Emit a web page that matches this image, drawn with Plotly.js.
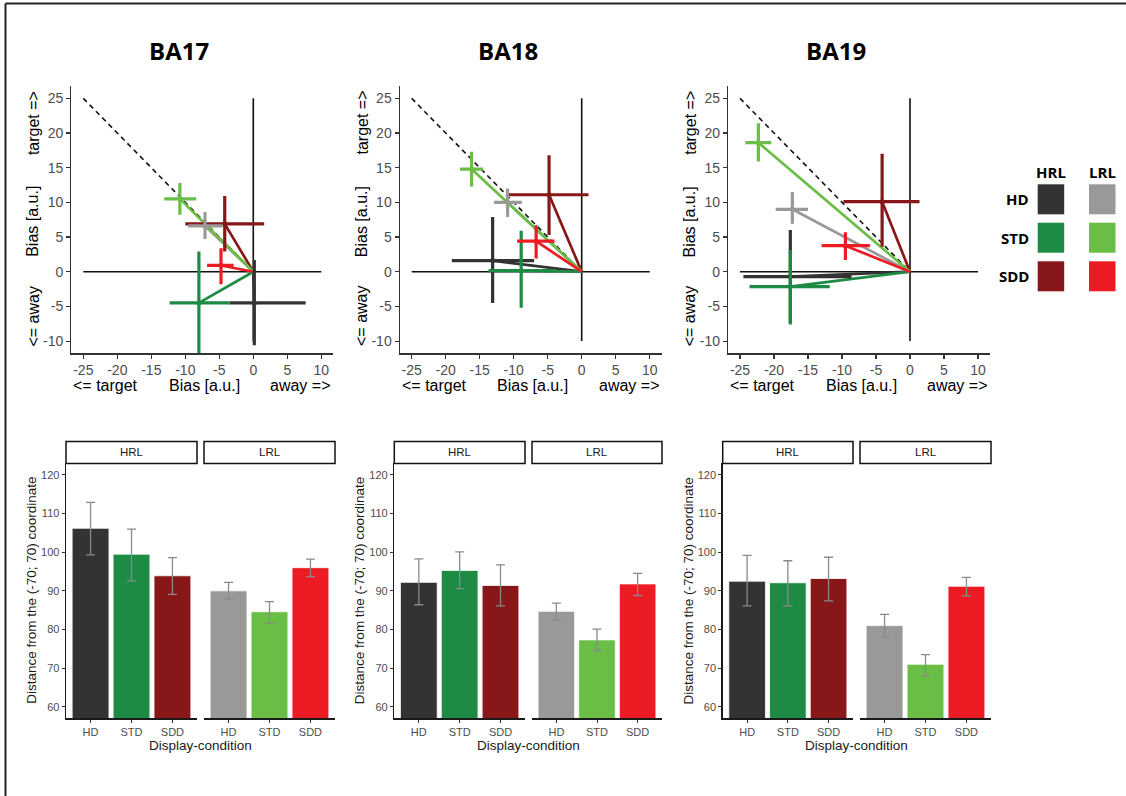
<!DOCTYPE html>
<html><head><meta charset="utf-8">
<script src="https://cdn.plot.ly/plotly-3.0.1.min.js"></script>
<style>html,body{margin:0;padding:0;background:#fff;overflow:hidden}#chart{width:1126px;height:796px}</style>
</head><body><div id="chart"></div>
<script>
// ---------- DATA ----------
const areas = ['BA17', 'BA18', 'BA19'];
const groups = ['HRL', 'LRL'];
const conditions = ['HD', 'STD', 'SDD'];
// series order: HRL HD, HRL STD, HRL SDD, LRL HD, LRL STD, LRL SDD
const seriesColors = ['#333333', '#1e8b45', '#871719', '#999999', '#6abd45', '#ed1c24'];

// Bias plots (mean and error-bar limits)
const ba17MeanX = [0.15, -8.0, -4.2, -7.1, -10.8, -4.75];
const ba17MeanY = [-4.5, -4.5, 6.9, 6.6, 10.5, 0.9];
const ba17XLo = [-3.5, -12.3, -10.0, -9.6, -13.1, -6.8];
const ba17XHi = [7.7, -3.5, 1.6, -4.5, -8.4, -2.9];
const ba17YLo = [-10.6, -12.5, 2.9, 4.7, 8.2, -1.8];
const ba17YHi = [1.7, 2.9, 10.9, 8.6, 12.8, 3.4];

const ba18MeanX = [-13.1, -8.9, -4.8, -10.9, -16.2, -6.7];
const ba18MeanY = [1.6, 0.15, 11.1, 10.0, 14.8, 4.4];
const ba18XLo = [-19.1, -13.7, -10.7, -12.9, -17.9, -9.5];
const ba18XHi = [-7.0, -4.0, 1.0, -8.8, -14.5, -4.0];
const ba18YLo = [-4.5, -5.2, 5.3, 7.9, 12.3, 1.9];
const ba18YHi = [7.9, 5.9, 16.8, 12.0, 17.3, 6.7];

const ba19MeanX = [-17.6, -17.6, -4.1, -17.3, -22.3, -9.5];
const ba19MeanY = [-0.7, -2.15, 10.1, 9.0, 18.6, 3.75];
const ba19XLo = [-24.5, -23.6, -9.8, -19.75, -24.2, -13.0];
const ba19XHi = [-8.6, -11.8, 1.4, -15.0, -20.4, -5.9];
const ba19YLo = [-7.4, -7.6, 3.6, 6.9, 15.9, 1.7];
const ba19YHi = [6.0, 3.1, 17.0, 11.5, 21.4, 5.7];

// reference lines
const originXY = [0, 0];
const refHorizX = [-25, 10];
const refVertY = [-10, 25];
const diagX = [-25, 0];
const diagY = [25, 0];

const biasTickVals = [-25, -20, -15, -10, -5, 0, 5, 10];
const biasTickText = ['-25', '-20', '-15', '-10', '-5', '0', '5', '10'];
const biasYTickVals = [-10, -5, 0, 5, 10, 15, 20, 25];
const biasYTickText = ['-10', '-5', '0', '5', '10', '15', '20', '25'];

// Distance bar charts
const ba17Dist = [106.2, 99.5, 93.9, 90.0, 84.6, 96.0];
const ba17DistLo = [99.3, 92.6, 89.1, 87.9, 81.6, 93.7];
const ba17DistHi = [112.9, 106.0, 98.6, 92.2, 87.2, 98.2];
const ba18Dist = [92.2, 95.3, 91.4, 84.7, 77.3, 91.8];
const ba18DistLo = [86.4, 90.6, 86.1, 82.5, 74.5, 88.8];
const ba18DistHi = [98.3, 100.1, 96.7, 86.8, 80.1, 94.5];
const ba19Dist = [92.5, 92.1, 93.2, 81.0, 71.0, 91.2];
const ba19DistLo = [86.1, 86.1, 87.4, 78.1, 68.0, 88.7];
const ba19DistHi = [99.2, 97.8, 98.7, 83.9, 73.5, 93.5];
const distTickVals = [60, 70, 80, 90, 100, 110, 120];

// ---------- BUILD ----------
const W = 1126, H = 796;
const px = v => v / W;
const py = v => 1 - v / H;
const FONT = 'Liberation Sans, Arial, sans-serif';
const TITLEFONT = 'Open Sans, Noto Sans, sans-serif';

const biasData = [
  [ba17MeanX, ba17MeanY, ba17XLo, ba17XHi, ba17YLo, ba17YHi],
  [ba18MeanX, ba18MeanY, ba18XLo, ba18XHi, ba18YLo, ba18YHi],
  [ba19MeanX, ba19MeanY, ba19XLo, ba19XHi, ba19YLo, ba19YHi]
];
const distData = [
  [ba17Dist, ba17DistLo, ba17DistHi],
  [ba18Dist, ba18DistLo, ba18DistHi],
  [ba19Dist, ba19DistLo, ba19DistHi]
];

// layout geometry (pixels)
const topLeft = [71.4, 399.8, 728.1];
const topRight = [333.2, 661.6, 989.9];
const topY = [86.2, 353.2];
const botPanels = [[[66, 197], [204, 335]], [[394.3, 525], [532, 662]], [[722.7, 853], [860, 991]]];
const botY = [463.4, 718.3];
const stripY = [441.5, 463.4];
const titleX = [179, 508, 836];

const traces = [];
const layout = {
  width: W, height: H,
  margin: {l: 0, r: 0, t: 0, b: 0},
  paper_bgcolor: '#ffffff', plot_bgcolor: '#ffffff',
  showlegend: false,
  font: {family: FONT, color: '#1a1a1a'},
  annotations: [], shapes: []
};

function ann(text, x, y, opts) {
  layout.annotations.push(Object.assign({
    text: text, x: px(x), y: py(y), xref: 'paper', yref: 'paper',
    showarrow: false, xanchor: 'center', yanchor: 'middle',
    font: {family: FONT, size: 16, color: '#000000'}
  }, opts || {}));
}

areas.forEach((area, i) => {
  const n = i + 1;
  const xs = n === 1 ? '' : String(n);
  const [mx, my, xlo, xhi, ylo, yhi] = biasData[i];
  const xa = 'x' + xs, ya = 'y' + xs;

  layout['xaxis' + xs] = {
    domain: [px(topLeft[i]), px(topRight[i])], range: [-26.75, 11.75], anchor: ya,
    tickmode: 'array', tickvals: biasTickVals, ticktext: biasTickText,
    showline: true, linecolor: '#333333', linewidth: 1.3, ticks: 'outside', ticklen: 4,
    tickcolor: '#333333', tickwidth: 1.1, showgrid: false, zeroline: false,
    tickfont: {family: FONT, size: 14, color: '#4d4d4d'}, fixedrange: true
  };
  layout['yaxis' + xs] = {
    domain: [py(topY[1]), py(topY[0])], range: [-11.75, 26.75], anchor: xa,
    tickmode: 'array', tickvals: biasYTickVals, ticktext: biasYTickText,
    showline: true, linecolor: '#333333', linewidth: 1.3, ticks: 'outside', ticklen: 4,
    tickcolor: '#333333', tickwidth: 1.1, showgrid: false, zeroline: false,
    tickfont: {family: FONT, size: 14, color: '#4d4d4d'}, fixedrange: true
  };

  // reference lines
  traces.push({type: 'scatter', mode: 'lines', x: refHorizX, y: originXY, xaxis: xa, yaxis: ya,
    line: {color: '#111111', width: 1.6}, hoverinfo: 'skip'});
  traces.push({type: 'scatter', mode: 'lines', x: originXY, y: refVertY, xaxis: xa, yaxis: ya,
    line: {color: '#111111', width: 1.6}, hoverinfo: 'skip'});
  traces.push({type: 'scatter', mode: 'lines', x: diagX, y: diagY, xaxis: xa, yaxis: ya,
    line: {color: '#111111', width: 1.6, dash: '5px,4px'}, hoverinfo: 'skip'});

  // connecting lines
  for (let j = 0; j < 6; j++) {
    traces.push({type: 'scatter', mode: 'lines', x: [originXY[0], mx[j]], y: [originXY[1], my[j]],
      xaxis: xa, yaxis: ya, line: {color: seriesColors[j], width: 2.7}, hoverinfo: 'skip'});
  }
  // crosses
  for (let j = 0; j < 6; j++) {
    traces.push({type: 'scatter', mode: 'markers', x: [mx[j]], y: [my[j]], xaxis: xa, yaxis: ya,
      marker: {color: seriesColors[j], size: 5},
      name: groups[Math.floor(j / 3)] + ' ' + conditions[j % 3],
      error_x: {type: 'data', symmetric: false, array: [xhi[j] - mx[j]], arrayminus: [mx[j] - xlo[j]],
        color: seriesColors[j], thickness: 3.2, width: 0},
      error_y: {type: 'data', symmetric: false, array: [yhi[j] - my[j]], arrayminus: [my[j] - ylo[j]],
        color: seriesColors[j], thickness: 3.2, width: 0}
    });
  }

  // title
  ann('<b>' + area + '</b>', titleX[i], 51, {font: {family: TITLEFONT, size: 24, color: '#000000'}});

  // top axis title parts
  const zeroPx = topLeft[i] + 26.75 * (topRight[i] - topLeft[i]) / 38.5;
  ann('&lt;= target', zeroPx - 147.5, 385);
  ann('Bias [a.u.]', zeroPx - 49, 385);
  ann('away =&gt;', zeroPx + 47, 385);
  const yl = topLeft[i] - 38.3;
  ann('target =&gt;', yl, 123, {textangle: -90});
  ann('Bias [a.u.]', yl, 221.7, {textangle: -90});
  ann('&lt;= away', yl, 316.5, {textangle: -90});

  // bottom bar panels
  groups.forEach((g, k) => {
    const an = 4 + 2 * i + k;
    const bxa = 'x' + an, bya = 'y' + an;
    const [d, lo, hi] = distData[i];
    const vals = d.slice(3 * k, 3 * k + 3);
    const los = lo.slice(3 * k, 3 * k + 3);
    const his = hi.slice(3 * k, 3 * k + 3);
    const [x0, x1] = botPanels[i][k];
    layout['xaxis' + an] = {
      domain: [px(x0), px(x1)], type: 'category', categoryorder: 'array', categoryarray: conditions,
      range: [-0.6, 2.6], anchor: bya, showline: true, linecolor: '#1a1a1a', linewidth: 1.4,
      ticks: 'outside', ticklen: 3, tickcolor: '#333333', tickwidth: 1, showgrid: false, zeroline: false,
      tickfont: {family: FONT, size: 11, color: '#4d4d4d'}, fixedrange: true
    };
    layout['yaxis' + an] = {
      domain: [py(botY[1]), py(botY[0])], range: [57, 123], anchor: bxa,
      tickmode: 'array', tickvals: distTickVals,
      visible: k === 0, showline: true, linecolor: '#1a1a1a', linewidth: 1.4,
      ticks: 'outside', ticklen: 3, tickcolor: '#333333', tickwidth: 1, showgrid: false, zeroline: false,
      tickfont: {family: FONT, size: 11, color: '#4d4d4d'}, fixedrange: true
    };
    traces.push({type: 'bar', x: conditions, y: vals, xaxis: bxa, yaxis: bya, width: 0.9,
      marker: {color: seriesColors.slice(3 * k, 3 * k + 3), line: {color: '#ffffff', width: 0.8}},
      error_y: {type: 'data', symmetric: false, array: his.map((h, q) => h - vals[q]),
        arrayminus: los.map((l, q) => vals[q] - l), color: '#8a8a8a', thickness: 1.3, width: 4.5},
      hoverinfo: 'skip'});
    // strip
    layout.shapes.push({type: 'rect', xref: 'paper', yref: 'paper', x0: px(x0), x1: px(x1),
      y0: py(stripY[1]), y1: py(stripY[0]), line: {color: '#111111', width: 1.5}, fillcolor: '#ffffff'});
    ann(g, (x0 + x1) / 2, (stripY[0] + stripY[1]) / 2, {font: {family: FONT, size: 11.5, color: '#1a1a1a'}});
  });
  const p = botPanels[i];
  ann('Display-condition', (p[0][0] + p[1][1]) / 2, 745, {font: {family: FONT, size: 13.5, color: '#1a1a1a'}});
  ann('Distance from the (-70; 70) coordinate', p[0][0] - 34, (botY[0] + botY[1]) / 2,
    {textangle: -90, font: {family: FONT, size: 13.5, color: '#1a1a1a'}});
});

// legend (HRL / LRL by HD / STD / SDD)
const legColX = [[1037.7, 1064.2], [1089, 1115.5]];
const legRowY = [[184.3, 214.3], [222.7, 252.7], [261.3, 291.3]];
groups.forEach((g, k) => {
  ann('<b>' + g + '</b>', (legColX[k][0] + legColX[k][1]) / 2, 171.7,
    {font: {family: TITLEFONT, size: 15, color: '#000000'}});
  conditions.forEach((c, r) => {
    layout.shapes.push({type: 'rect', xref: 'paper', yref: 'paper',
      x0: px(legColX[k][0]), x1: px(legColX[k][1]), y0: py(legRowY[r][1]), y1: py(legRowY[r][0]),
      line: {width: 0}, fillcolor: seriesColors[3 * k + r]});
  });
});
conditions.forEach((c, r) => {
  ann('<b>' + c + '</b>', 1031, (legRowY[r][0] + legRowY[r][1]) / 2,
    {xanchor: 'right', font: {family: TITLEFONT, size: 15, color: '#000000'}});
});

// frame lines
layout.shapes.push({type: 'line', xref: 'paper', yref: 'paper', x0: px(5.5), x1: 1, y0: py(3.5), y1: py(3.5),
  line: {color: '#222222', width: 2}});
layout.shapes.push({type: 'line', xref: 'paper', yref: 'paper', x0: px(5.5), x1: px(5.5), y0: py(3.5), y1: 0,
  line: {color: '#222222', width: 2}});

Plotly.newPlot('chart', traces, layout, {displayModeBar: false, staticPlot: true});
</script>
</body></html>
